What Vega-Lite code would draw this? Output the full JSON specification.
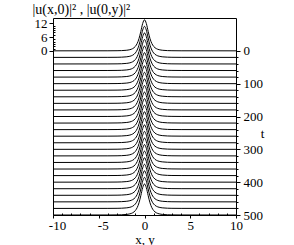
{
"$schema": "https://vega.github.io/schema/vega-lite/v6.json",
"autosize": "none",
"padding": {"left": 53, "top": 18, "right": 58, "bottom": 30},
"width": 183,
"height": 197,
"config": {
  "font": "Liberation Serif",
  "view": {"stroke": "black", "strokeWidth": 1},
  "line": {"color": "black", "strokeWidth": 1, "interpolate": "monotone"},
  "axis": {"labelFont": "Liberation Serif", "labelFontSize": 13, "labelColor": "black", "titleFont": "Liberation Serif", "titleFontSize": 13, "titleFontWeight": "normal", "titleColor": "black", "tickColor": "black", "tickWidth": 1, "domain": false, "grid": false}
},
"resolve": {"scale": {"x": "independent", "y": "independent"}, "axis": {"x": "independent", "y": "independent"}},
"data": {"values": [
{"t":0,"x":-10,"a":0},{"t":0,"x":-4,"a":0.02},{"t":0,"x":-3,"a":0.05},{"t":0,"x":-2.5,"a":0.1},{"t":0,"x":-2,"a":0.24},{"t":0,"x":-1.6,"a":0.5},{"t":0,"x":-1.3,"a":0.95},{"t":0,"x":-1,"a":1.93},{"t":0,"x":-0.8,"a":3.21},{"t":0,"x":-0.6,"a":5.33},{"t":0,"x":-0.4,"a":8.46},{"t":0,"x":-0.2,"a":11.89},{"t":0,"x":0,"a":13.5},{"t":0,"x":0.2,"a":11.89},{"t":0,"x":0.4,"a":8.46},{"t":0,"x":0.6,"a":5.33},{"t":0,"x":0.8,"a":3.21},{"t":0,"x":1,"a":1.93},{"t":0,"x":1.3,"a":0.95},{"t":0,"x":1.6,"a":0.5},{"t":0,"x":2,"a":0.24},{"t":0,"x":2.5,"a":0.1},{"t":0,"x":3,"a":0.05},{"t":0,"x":4,"a":0.02},{"t":0,"x":10,"a":0},
{"t":20,"x":-10,"a":0},{"t":20,"x":-4,"a":0.02},{"t":20,"x":-3,"a":0.05},{"t":20,"x":-2.5,"a":0.1},{"t":20,"x":-2,"a":0.24},{"t":20,"x":-1.6,"a":0.5},{"t":20,"x":-1.3,"a":0.95},{"t":20,"x":-1,"a":1.93},{"t":20,"x":-0.8,"a":3.21},{"t":20,"x":-0.6,"a":5.33},{"t":20,"x":-0.4,"a":8.46},{"t":20,"x":-0.2,"a":11.89},{"t":20,"x":0,"a":13.5},{"t":20,"x":0.2,"a":11.89},{"t":20,"x":0.4,"a":8.46},{"t":20,"x":0.6,"a":5.33},{"t":20,"x":0.8,"a":3.21},{"t":20,"x":1,"a":1.93},{"t":20,"x":1.3,"a":0.95},{"t":20,"x":1.6,"a":0.5},{"t":20,"x":2,"a":0.24},{"t":20,"x":2.5,"a":0.1},{"t":20,"x":3,"a":0.05},{"t":20,"x":4,"a":0.02},{"t":20,"x":10,"a":0},
{"t":40,"x":-10,"a":0},{"t":40,"x":-4,"a":0.02},{"t":40,"x":-3,"a":0.05},{"t":40,"x":-2.5,"a":0.1},{"t":40,"x":-2,"a":0.24},{"t":40,"x":-1.6,"a":0.5},{"t":40,"x":-1.3,"a":0.95},{"t":40,"x":-1,"a":1.93},{"t":40,"x":-0.8,"a":3.21},{"t":40,"x":-0.6,"a":5.33},{"t":40,"x":-0.4,"a":8.46},{"t":40,"x":-0.2,"a":11.89},{"t":40,"x":0,"a":13.5},{"t":40,"x":0.2,"a":11.89},{"t":40,"x":0.4,"a":8.46},{"t":40,"x":0.6,"a":5.33},{"t":40,"x":0.8,"a":3.21},{"t":40,"x":1,"a":1.93},{"t":40,"x":1.3,"a":0.95},{"t":40,"x":1.6,"a":0.5},{"t":40,"x":2,"a":0.24},{"t":40,"x":2.5,"a":0.1},{"t":40,"x":3,"a":0.05},{"t":40,"x":4,"a":0.02},{"t":40,"x":10,"a":0},
{"t":60,"x":-10,"a":0},{"t":60,"x":-4,"a":0.02},{"t":60,"x":-3,"a":0.05},{"t":60,"x":-2.5,"a":0.1},{"t":60,"x":-2,"a":0.24},{"t":60,"x":-1.6,"a":0.5},{"t":60,"x":-1.3,"a":0.95},{"t":60,"x":-1,"a":1.93},{"t":60,"x":-0.8,"a":3.21},{"t":60,"x":-0.6,"a":5.33},{"t":60,"x":-0.4,"a":8.46},{"t":60,"x":-0.2,"a":11.89},{"t":60,"x":0,"a":13.5},{"t":60,"x":0.2,"a":11.89},{"t":60,"x":0.4,"a":8.46},{"t":60,"x":0.6,"a":5.33},{"t":60,"x":0.8,"a":3.21},{"t":60,"x":1,"a":1.93},{"t":60,"x":1.3,"a":0.95},{"t":60,"x":1.6,"a":0.5},{"t":60,"x":2,"a":0.24},{"t":60,"x":2.5,"a":0.1},{"t":60,"x":3,"a":0.05},{"t":60,"x":4,"a":0.02},{"t":60,"x":10,"a":0},
{"t":80,"x":-10,"a":0},{"t":80,"x":-4,"a":0.02},{"t":80,"x":-3,"a":0.05},{"t":80,"x":-2.5,"a":0.1},{"t":80,"x":-2,"a":0.24},{"t":80,"x":-1.6,"a":0.5},{"t":80,"x":-1.3,"a":0.95},{"t":80,"x":-1,"a":1.93},{"t":80,"x":-0.8,"a":3.21},{"t":80,"x":-0.6,"a":5.33},{"t":80,"x":-0.4,"a":8.46},{"t":80,"x":-0.2,"a":11.89},{"t":80,"x":0,"a":13.5},{"t":80,"x":0.2,"a":11.89},{"t":80,"x":0.4,"a":8.46},{"t":80,"x":0.6,"a":5.33},{"t":80,"x":0.8,"a":3.21},{"t":80,"x":1,"a":1.93},{"t":80,"x":1.3,"a":0.95},{"t":80,"x":1.6,"a":0.5},{"t":80,"x":2,"a":0.24},{"t":80,"x":2.5,"a":0.1},{"t":80,"x":3,"a":0.05},{"t":80,"x":4,"a":0.02},{"t":80,"x":10,"a":0},
{"t":100,"x":-10,"a":0},{"t":100,"x":-4,"a":0.02},{"t":100,"x":-3,"a":0.05},{"t":100,"x":-2.5,"a":0.1},{"t":100,"x":-2,"a":0.24},{"t":100,"x":-1.6,"a":0.5},{"t":100,"x":-1.3,"a":0.95},{"t":100,"x":-1,"a":1.93},{"t":100,"x":-0.8,"a":3.21},{"t":100,"x":-0.6,"a":5.33},{"t":100,"x":-0.4,"a":8.46},{"t":100,"x":-0.2,"a":11.89},{"t":100,"x":0,"a":13.5},{"t":100,"x":0.2,"a":11.89},{"t":100,"x":0.4,"a":8.46},{"t":100,"x":0.6,"a":5.33},{"t":100,"x":0.8,"a":3.21},{"t":100,"x":1,"a":1.93},{"t":100,"x":1.3,"a":0.95},{"t":100,"x":1.6,"a":0.5},{"t":100,"x":2,"a":0.24},{"t":100,"x":2.5,"a":0.1},{"t":100,"x":3,"a":0.05},{"t":100,"x":4,"a":0.02},{"t":100,"x":10,"a":0},
{"t":120,"x":-10,"a":0},{"t":120,"x":-4,"a":0.02},{"t":120,"x":-3,"a":0.05},{"t":120,"x":-2.5,"a":0.1},{"t":120,"x":-2,"a":0.24},{"t":120,"x":-1.6,"a":0.5},{"t":120,"x":-1.3,"a":0.95},{"t":120,"x":-1,"a":1.93},{"t":120,"x":-0.8,"a":3.21},{"t":120,"x":-0.6,"a":5.33},{"t":120,"x":-0.4,"a":8.46},{"t":120,"x":-0.2,"a":11.89},{"t":120,"x":0,"a":13.5},{"t":120,"x":0.2,"a":11.89},{"t":120,"x":0.4,"a":8.46},{"t":120,"x":0.6,"a":5.33},{"t":120,"x":0.8,"a":3.21},{"t":120,"x":1,"a":1.93},{"t":120,"x":1.3,"a":0.95},{"t":120,"x":1.6,"a":0.5},{"t":120,"x":2,"a":0.24},{"t":120,"x":2.5,"a":0.1},{"t":120,"x":3,"a":0.05},{"t":120,"x":4,"a":0.02},{"t":120,"x":10,"a":0},
{"t":140,"x":-10,"a":0},{"t":140,"x":-4,"a":0.02},{"t":140,"x":-3,"a":0.05},{"t":140,"x":-2.5,"a":0.1},{"t":140,"x":-2,"a":0.24},{"t":140,"x":-1.6,"a":0.5},{"t":140,"x":-1.3,"a":0.95},{"t":140,"x":-1,"a":1.93},{"t":140,"x":-0.8,"a":3.21},{"t":140,"x":-0.6,"a":5.33},{"t":140,"x":-0.4,"a":8.46},{"t":140,"x":-0.2,"a":11.89},{"t":140,"x":0,"a":13.5},{"t":140,"x":0.2,"a":11.89},{"t":140,"x":0.4,"a":8.46},{"t":140,"x":0.6,"a":5.33},{"t":140,"x":0.8,"a":3.21},{"t":140,"x":1,"a":1.93},{"t":140,"x":1.3,"a":0.95},{"t":140,"x":1.6,"a":0.5},{"t":140,"x":2,"a":0.24},{"t":140,"x":2.5,"a":0.1},{"t":140,"x":3,"a":0.05},{"t":140,"x":4,"a":0.02},{"t":140,"x":10,"a":0},
{"t":160,"x":-10,"a":0},{"t":160,"x":-4,"a":0.02},{"t":160,"x":-3,"a":0.05},{"t":160,"x":-2.5,"a":0.1},{"t":160,"x":-2,"a":0.24},{"t":160,"x":-1.6,"a":0.5},{"t":160,"x":-1.3,"a":0.95},{"t":160,"x":-1,"a":1.93},{"t":160,"x":-0.8,"a":3.21},{"t":160,"x":-0.6,"a":5.33},{"t":160,"x":-0.4,"a":8.46},{"t":160,"x":-0.2,"a":11.89},{"t":160,"x":0,"a":13.5},{"t":160,"x":0.2,"a":11.89},{"t":160,"x":0.4,"a":8.46},{"t":160,"x":0.6,"a":5.33},{"t":160,"x":0.8,"a":3.21},{"t":160,"x":1,"a":1.93},{"t":160,"x":1.3,"a":0.95},{"t":160,"x":1.6,"a":0.5},{"t":160,"x":2,"a":0.24},{"t":160,"x":2.5,"a":0.1},{"t":160,"x":3,"a":0.05},{"t":160,"x":4,"a":0.02},{"t":160,"x":10,"a":0},
{"t":180,"x":-10,"a":0},{"t":180,"x":-4,"a":0.02},{"t":180,"x":-3,"a":0.05},{"t":180,"x":-2.5,"a":0.1},{"t":180,"x":-2,"a":0.24},{"t":180,"x":-1.6,"a":0.5},{"t":180,"x":-1.3,"a":0.95},{"t":180,"x":-1,"a":1.93},{"t":180,"x":-0.8,"a":3.21},{"t":180,"x":-0.6,"a":5.33},{"t":180,"x":-0.4,"a":8.46},{"t":180,"x":-0.2,"a":11.89},{"t":180,"x":0,"a":13.5},{"t":180,"x":0.2,"a":11.89},{"t":180,"x":0.4,"a":8.46},{"t":180,"x":0.6,"a":5.33},{"t":180,"x":0.8,"a":3.21},{"t":180,"x":1,"a":1.93},{"t":180,"x":1.3,"a":0.95},{"t":180,"x":1.6,"a":0.5},{"t":180,"x":2,"a":0.24},{"t":180,"x":2.5,"a":0.1},{"t":180,"x":3,"a":0.05},{"t":180,"x":4,"a":0.02},{"t":180,"x":10,"a":0},
{"t":200,"x":-10,"a":0},{"t":200,"x":-4,"a":0.02},{"t":200,"x":-3,"a":0.05},{"t":200,"x":-2.5,"a":0.1},{"t":200,"x":-2,"a":0.24},{"t":200,"x":-1.6,"a":0.5},{"t":200,"x":-1.3,"a":0.95},{"t":200,"x":-1,"a":1.93},{"t":200,"x":-0.8,"a":3.21},{"t":200,"x":-0.6,"a":5.33},{"t":200,"x":-0.4,"a":8.46},{"t":200,"x":-0.2,"a":11.89},{"t":200,"x":0,"a":13.5},{"t":200,"x":0.2,"a":11.89},{"t":200,"x":0.4,"a":8.46},{"t":200,"x":0.6,"a":5.33},{"t":200,"x":0.8,"a":3.21},{"t":200,"x":1,"a":1.93},{"t":200,"x":1.3,"a":0.95},{"t":200,"x":1.6,"a":0.5},{"t":200,"x":2,"a":0.24},{"t":200,"x":2.5,"a":0.1},{"t":200,"x":3,"a":0.05},{"t":200,"x":4,"a":0.02},{"t":200,"x":10,"a":0},
{"t":220,"x":-10,"a":0},{"t":220,"x":-4,"a":0.02},{"t":220,"x":-3,"a":0.05},{"t":220,"x":-2.5,"a":0.1},{"t":220,"x":-2,"a":0.24},{"t":220,"x":-1.6,"a":0.5},{"t":220,"x":-1.3,"a":0.95},{"t":220,"x":-1,"a":1.93},{"t":220,"x":-0.8,"a":3.21},{"t":220,"x":-0.6,"a":5.33},{"t":220,"x":-0.4,"a":8.46},{"t":220,"x":-0.2,"a":11.89},{"t":220,"x":0,"a":13.5},{"t":220,"x":0.2,"a":11.89},{"t":220,"x":0.4,"a":8.46},{"t":220,"x":0.6,"a":5.33},{"t":220,"x":0.8,"a":3.21},{"t":220,"x":1,"a":1.93},{"t":220,"x":1.3,"a":0.95},{"t":220,"x":1.6,"a":0.5},{"t":220,"x":2,"a":0.24},{"t":220,"x":2.5,"a":0.1},{"t":220,"x":3,"a":0.05},{"t":220,"x":4,"a":0.02},{"t":220,"x":10,"a":0},
{"t":240,"x":-10,"a":0},{"t":240,"x":-4,"a":0.02},{"t":240,"x":-3,"a":0.05},{"t":240,"x":-2.5,"a":0.1},{"t":240,"x":-2,"a":0.24},{"t":240,"x":-1.6,"a":0.5},{"t":240,"x":-1.3,"a":0.95},{"t":240,"x":-1,"a":1.93},{"t":240,"x":-0.8,"a":3.21},{"t":240,"x":-0.6,"a":5.33},{"t":240,"x":-0.4,"a":8.46},{"t":240,"x":-0.2,"a":11.89},{"t":240,"x":0,"a":13.5},{"t":240,"x":0.2,"a":11.89},{"t":240,"x":0.4,"a":8.46},{"t":240,"x":0.6,"a":5.33},{"t":240,"x":0.8,"a":3.21},{"t":240,"x":1,"a":1.93},{"t":240,"x":1.3,"a":0.95},{"t":240,"x":1.6,"a":0.5},{"t":240,"x":2,"a":0.24},{"t":240,"x":2.5,"a":0.1},{"t":240,"x":3,"a":0.05},{"t":240,"x":4,"a":0.02},{"t":240,"x":10,"a":0},
{"t":260,"x":-10,"a":0},{"t":260,"x":-4,"a":0.02},{"t":260,"x":-3,"a":0.05},{"t":260,"x":-2.5,"a":0.1},{"t":260,"x":-2,"a":0.24},{"t":260,"x":-1.6,"a":0.5},{"t":260,"x":-1.3,"a":0.95},{"t":260,"x":-1,"a":1.93},{"t":260,"x":-0.8,"a":3.21},{"t":260,"x":-0.6,"a":5.33},{"t":260,"x":-0.4,"a":8.46},{"t":260,"x":-0.2,"a":11.89},{"t":260,"x":0,"a":13.5},{"t":260,"x":0.2,"a":11.89},{"t":260,"x":0.4,"a":8.46},{"t":260,"x":0.6,"a":5.33},{"t":260,"x":0.8,"a":3.21},{"t":260,"x":1,"a":1.93},{"t":260,"x":1.3,"a":0.95},{"t":260,"x":1.6,"a":0.5},{"t":260,"x":2,"a":0.24},{"t":260,"x":2.5,"a":0.1},{"t":260,"x":3,"a":0.05},{"t":260,"x":4,"a":0.02},{"t":260,"x":10,"a":0},
{"t":280,"x":-10,"a":0},{"t":280,"x":-4,"a":0.02},{"t":280,"x":-3,"a":0.05},{"t":280,"x":-2.5,"a":0.1},{"t":280,"x":-2,"a":0.24},{"t":280,"x":-1.6,"a":0.5},{"t":280,"x":-1.3,"a":0.95},{"t":280,"x":-1,"a":1.93},{"t":280,"x":-0.8,"a":3.21},{"t":280,"x":-0.6,"a":5.33},{"t":280,"x":-0.4,"a":8.46},{"t":280,"x":-0.2,"a":11.89},{"t":280,"x":0,"a":13.5},{"t":280,"x":0.2,"a":11.89},{"t":280,"x":0.4,"a":8.46},{"t":280,"x":0.6,"a":5.33},{"t":280,"x":0.8,"a":3.21},{"t":280,"x":1,"a":1.93},{"t":280,"x":1.3,"a":0.95},{"t":280,"x":1.6,"a":0.5},{"t":280,"x":2,"a":0.24},{"t":280,"x":2.5,"a":0.1},{"t":280,"x":3,"a":0.05},{"t":280,"x":4,"a":0.02},{"t":280,"x":10,"a":0},
{"t":300,"x":-10,"a":0},{"t":300,"x":-4,"a":0.02},{"t":300,"x":-3,"a":0.05},{"t":300,"x":-2.5,"a":0.1},{"t":300,"x":-2,"a":0.24},{"t":300,"x":-1.6,"a":0.5},{"t":300,"x":-1.3,"a":0.95},{"t":300,"x":-1,"a":1.93},{"t":300,"x":-0.8,"a":3.21},{"t":300,"x":-0.6,"a":5.33},{"t":300,"x":-0.4,"a":8.46},{"t":300,"x":-0.2,"a":11.89},{"t":300,"x":0,"a":13.5},{"t":300,"x":0.2,"a":11.89},{"t":300,"x":0.4,"a":8.46},{"t":300,"x":0.6,"a":5.33},{"t":300,"x":0.8,"a":3.21},{"t":300,"x":1,"a":1.93},{"t":300,"x":1.3,"a":0.95},{"t":300,"x":1.6,"a":0.5},{"t":300,"x":2,"a":0.24},{"t":300,"x":2.5,"a":0.1},{"t":300,"x":3,"a":0.05},{"t":300,"x":4,"a":0.02},{"t":300,"x":10,"a":0},
{"t":320,"x":-10,"a":0},{"t":320,"x":-4,"a":0.02},{"t":320,"x":-3,"a":0.05},{"t":320,"x":-2.5,"a":0.1},{"t":320,"x":-2,"a":0.24},{"t":320,"x":-1.6,"a":0.5},{"t":320,"x":-1.3,"a":0.95},{"t":320,"x":-1,"a":1.93},{"t":320,"x":-0.8,"a":3.21},{"t":320,"x":-0.6,"a":5.33},{"t":320,"x":-0.4,"a":8.46},{"t":320,"x":-0.2,"a":11.89},{"t":320,"x":0,"a":13.5},{"t":320,"x":0.2,"a":11.89},{"t":320,"x":0.4,"a":8.46},{"t":320,"x":0.6,"a":5.33},{"t":320,"x":0.8,"a":3.21},{"t":320,"x":1,"a":1.93},{"t":320,"x":1.3,"a":0.95},{"t":320,"x":1.6,"a":0.5},{"t":320,"x":2,"a":0.24},{"t":320,"x":2.5,"a":0.1},{"t":320,"x":3,"a":0.05},{"t":320,"x":4,"a":0.02},{"t":320,"x":10,"a":0},
{"t":340,"x":-10,"a":0},{"t":340,"x":-4,"a":0.02},{"t":340,"x":-3,"a":0.05},{"t":340,"x":-2.5,"a":0.1},{"t":340,"x":-2,"a":0.24},{"t":340,"x":-1.6,"a":0.5},{"t":340,"x":-1.3,"a":0.95},{"t":340,"x":-1,"a":1.93},{"t":340,"x":-0.8,"a":3.21},{"t":340,"x":-0.6,"a":5.33},{"t":340,"x":-0.4,"a":8.46},{"t":340,"x":-0.2,"a":11.89},{"t":340,"x":0,"a":13.5},{"t":340,"x":0.2,"a":11.89},{"t":340,"x":0.4,"a":8.46},{"t":340,"x":0.6,"a":5.33},{"t":340,"x":0.8,"a":3.21},{"t":340,"x":1,"a":1.93},{"t":340,"x":1.3,"a":0.95},{"t":340,"x":1.6,"a":0.5},{"t":340,"x":2,"a":0.24},{"t":340,"x":2.5,"a":0.1},{"t":340,"x":3,"a":0.05},{"t":340,"x":4,"a":0.02},{"t":340,"x":10,"a":0},
{"t":360,"x":-10,"a":0},{"t":360,"x":-4,"a":0.02},{"t":360,"x":-3,"a":0.05},{"t":360,"x":-2.5,"a":0.1},{"t":360,"x":-2,"a":0.24},{"t":360,"x":-1.6,"a":0.5},{"t":360,"x":-1.3,"a":0.95},{"t":360,"x":-1,"a":1.93},{"t":360,"x":-0.8,"a":3.21},{"t":360,"x":-0.6,"a":5.33},{"t":360,"x":-0.4,"a":8.46},{"t":360,"x":-0.2,"a":11.89},{"t":360,"x":0,"a":13.5},{"t":360,"x":0.2,"a":11.89},{"t":360,"x":0.4,"a":8.46},{"t":360,"x":0.6,"a":5.33},{"t":360,"x":0.8,"a":3.21},{"t":360,"x":1,"a":1.93},{"t":360,"x":1.3,"a":0.95},{"t":360,"x":1.6,"a":0.5},{"t":360,"x":2,"a":0.24},{"t":360,"x":2.5,"a":0.1},{"t":360,"x":3,"a":0.05},{"t":360,"x":4,"a":0.02},{"t":360,"x":10,"a":0},
{"t":380,"x":-10,"a":0},{"t":380,"x":-4,"a":0.02},{"t":380,"x":-3,"a":0.05},{"t":380,"x":-2.5,"a":0.1},{"t":380,"x":-2,"a":0.24},{"t":380,"x":-1.6,"a":0.5},{"t":380,"x":-1.3,"a":0.95},{"t":380,"x":-1,"a":1.93},{"t":380,"x":-0.8,"a":3.21},{"t":380,"x":-0.6,"a":5.33},{"t":380,"x":-0.4,"a":8.46},{"t":380,"x":-0.2,"a":11.89},{"t":380,"x":0,"a":13.5},{"t":380,"x":0.2,"a":11.89},{"t":380,"x":0.4,"a":8.46},{"t":380,"x":0.6,"a":5.33},{"t":380,"x":0.8,"a":3.21},{"t":380,"x":1,"a":1.93},{"t":380,"x":1.3,"a":0.95},{"t":380,"x":1.6,"a":0.5},{"t":380,"x":2,"a":0.24},{"t":380,"x":2.5,"a":0.1},{"t":380,"x":3,"a":0.05},{"t":380,"x":4,"a":0.02},{"t":380,"x":10,"a":0},
{"t":400,"x":-10,"a":0},{"t":400,"x":-4,"a":0.02},{"t":400,"x":-3,"a":0.05},{"t":400,"x":-2.5,"a":0.1},{"t":400,"x":-2,"a":0.24},{"t":400,"x":-1.6,"a":0.5},{"t":400,"x":-1.3,"a":0.95},{"t":400,"x":-1,"a":1.93},{"t":400,"x":-0.8,"a":3.21},{"t":400,"x":-0.6,"a":5.33},{"t":400,"x":-0.4,"a":8.46},{"t":400,"x":-0.2,"a":11.89},{"t":400,"x":0,"a":13.5},{"t":400,"x":0.2,"a":11.89},{"t":400,"x":0.4,"a":8.46},{"t":400,"x":0.6,"a":5.33},{"t":400,"x":0.8,"a":3.21},{"t":400,"x":1,"a":1.93},{"t":400,"x":1.3,"a":0.95},{"t":400,"x":1.6,"a":0.5},{"t":400,"x":2,"a":0.24},{"t":400,"x":2.5,"a":0.1},{"t":400,"x":3,"a":0.05},{"t":400,"x":4,"a":0.02},{"t":400,"x":10,"a":0},
{"t":420,"x":-10,"a":0},{"t":420,"x":-4,"a":0.02},{"t":420,"x":-3,"a":0.05},{"t":420,"x":-2.5,"a":0.1},{"t":420,"x":-2,"a":0.24},{"t":420,"x":-1.6,"a":0.5},{"t":420,"x":-1.3,"a":0.95},{"t":420,"x":-1,"a":1.93},{"t":420,"x":-0.8,"a":3.21},{"t":420,"x":-0.6,"a":5.33},{"t":420,"x":-0.4,"a":8.46},{"t":420,"x":-0.2,"a":11.89},{"t":420,"x":0,"a":13.5},{"t":420,"x":0.2,"a":11.89},{"t":420,"x":0.4,"a":8.46},{"t":420,"x":0.6,"a":5.33},{"t":420,"x":0.8,"a":3.21},{"t":420,"x":1,"a":1.93},{"t":420,"x":1.3,"a":0.95},{"t":420,"x":1.6,"a":0.5},{"t":420,"x":2,"a":0.24},{"t":420,"x":2.5,"a":0.1},{"t":420,"x":3,"a":0.05},{"t":420,"x":4,"a":0.02},{"t":420,"x":10,"a":0},
{"t":440,"x":-10,"a":0},{"t":440,"x":-4,"a":0.02},{"t":440,"x":-3,"a":0.05},{"t":440,"x":-2.5,"a":0.1},{"t":440,"x":-2,"a":0.24},{"t":440,"x":-1.6,"a":0.5},{"t":440,"x":-1.3,"a":0.95},{"t":440,"x":-1,"a":1.93},{"t":440,"x":-0.8,"a":3.21},{"t":440,"x":-0.6,"a":5.33},{"t":440,"x":-0.4,"a":8.46},{"t":440,"x":-0.2,"a":11.89},{"t":440,"x":0,"a":13.5},{"t":440,"x":0.2,"a":11.89},{"t":440,"x":0.4,"a":8.46},{"t":440,"x":0.6,"a":5.33},{"t":440,"x":0.8,"a":3.21},{"t":440,"x":1,"a":1.93},{"t":440,"x":1.3,"a":0.95},{"t":440,"x":1.6,"a":0.5},{"t":440,"x":2,"a":0.24},{"t":440,"x":2.5,"a":0.1},{"t":440,"x":3,"a":0.05},{"t":440,"x":4,"a":0.02},{"t":440,"x":10,"a":0},
{"t":460,"x":-10,"a":0},{"t":460,"x":-4,"a":0.02},{"t":460,"x":-3,"a":0.05},{"t":460,"x":-2.5,"a":0.1},{"t":460,"x":-2,"a":0.24},{"t":460,"x":-1.6,"a":0.5},{"t":460,"x":-1.3,"a":0.95},{"t":460,"x":-1,"a":1.93},{"t":460,"x":-0.8,"a":3.21},{"t":460,"x":-0.6,"a":5.33},{"t":460,"x":-0.4,"a":8.46},{"t":460,"x":-0.2,"a":11.89},{"t":460,"x":0,"a":13.5},{"t":460,"x":0.2,"a":11.89},{"t":460,"x":0.4,"a":8.46},{"t":460,"x":0.6,"a":5.33},{"t":460,"x":0.8,"a":3.21},{"t":460,"x":1,"a":1.93},{"t":460,"x":1.3,"a":0.95},{"t":460,"x":1.6,"a":0.5},{"t":460,"x":2,"a":0.24},{"t":460,"x":2.5,"a":0.1},{"t":460,"x":3,"a":0.05},{"t":460,"x":4,"a":0.02},{"t":460,"x":10,"a":0},
{"t":480,"x":-10,"a":0},{"t":480,"x":-4,"a":0.02},{"t":480,"x":-3,"a":0.05},{"t":480,"x":-2.5,"a":0.1},{"t":480,"x":-2,"a":0.24},{"t":480,"x":-1.6,"a":0.5},{"t":480,"x":-1.3,"a":0.95},{"t":480,"x":-1,"a":1.93},{"t":480,"x":-0.8,"a":3.21},{"t":480,"x":-0.6,"a":5.33},{"t":480,"x":-0.4,"a":8.46},{"t":480,"x":-0.2,"a":11.89},{"t":480,"x":0,"a":13.5},{"t":480,"x":0.2,"a":11.89},{"t":480,"x":0.4,"a":8.46},{"t":480,"x":0.6,"a":5.33},{"t":480,"x":0.8,"a":3.21},{"t":480,"x":1,"a":1.93},{"t":480,"x":1.3,"a":0.95},{"t":480,"x":1.6,"a":0.5},{"t":480,"x":2,"a":0.24},{"t":480,"x":2.5,"a":0.1},{"t":480,"x":3,"a":0.05},{"t":480,"x":4,"a":0.02},{"t":480,"x":10,"a":0},
{"t":500,"x":-10,"a":0},{"t":500,"x":-4,"a":0.02},{"t":500,"x":-3,"a":0.05},{"t":500,"x":-2.5,"a":0.1},{"t":500,"x":-2,"a":0.24},{"t":500,"x":-1.6,"a":0.5},{"t":500,"x":-1.3,"a":0.95},{"t":500,"x":-1,"a":1.93},{"t":500,"x":-0.8,"a":3.21},{"t":500,"x":-0.6,"a":5.33},{"t":500,"x":-0.4,"a":8.46},{"t":500,"x":-0.2,"a":11.89},{"t":500,"x":0,"a":13.5},{"t":500,"x":0.2,"a":11.89},{"t":500,"x":0.4,"a":8.46},{"t":500,"x":0.6,"a":5.33},{"t":500,"x":0.8,"a":3.21},{"t":500,"x":1,"a":1.93},{"t":500,"x":1.3,"a":0.95},{"t":500,"x":1.6,"a":0.5},{"t":500,"x":2,"a":0.24},{"t":500,"x":2.5,"a":0.1},{"t":500,"x":3,"a":0.05},{"t":500,"x":4,"a":0.02},{"t":500,"x":10,"a":0}
]},
"layer": [
{"transform":[{"filter":"datum.t == 0"}],"mark":"line","encoding":{"x":{"field":"x","type":"quantitative","scale":{"domain":[-10,10],"nice":false,"zero":false},"axis":null},"y":{"field":"a","type":"quantitative","scale":{"domain":[-71.4286,14.2857],"nice":false,"zero":false},"axis":null}}},
{"transform":[{"filter":"datum.t == 20"}],"mark":"line","encoding":{"x":{"field":"x","type":"quantitative","scale":{"domain":[-10,10],"nice":false,"zero":false},"axis":null},"y":{"field":"a","type":"quantitative","scale":{"domain":[-68.5714,17.1429],"nice":false,"zero":false},"axis":null}}},
{"transform":[{"filter":"datum.t == 40"}],"mark":"line","encoding":{"x":{"field":"x","type":"quantitative","scale":{"domain":[-10,10],"nice":false,"zero":false},"axis":null},"y":{"field":"a","type":"quantitative","scale":{"domain":[-65.7143,20],"nice":false,"zero":false},"axis":null}}},
{"transform":[{"filter":"datum.t == 60"}],"mark":"line","encoding":{"x":{"field":"x","type":"quantitative","scale":{"domain":[-10,10],"nice":false,"zero":false},"axis":null},"y":{"field":"a","type":"quantitative","scale":{"domain":[-62.8571,22.8571],"nice":false,"zero":false},"axis":null}}},
{"transform":[{"filter":"datum.t == 80"}],"mark":"line","encoding":{"x":{"field":"x","type":"quantitative","scale":{"domain":[-10,10],"nice":false,"zero":false},"axis":null},"y":{"field":"a","type":"quantitative","scale":{"domain":[-60,25.7143],"nice":false,"zero":false},"axis":null}}},
{"transform":[{"filter":"datum.t == 100"}],"mark":"line","encoding":{"x":{"field":"x","type":"quantitative","scale":{"domain":[-10,10],"nice":false,"zero":false},"axis":null},"y":{"field":"a","type":"quantitative","scale":{"domain":[-57.1429,28.5714],"nice":false,"zero":false},"axis":null}}},
{"transform":[{"filter":"datum.t == 120"}],"mark":"line","encoding":{"x":{"field":"x","type":"quantitative","scale":{"domain":[-10,10],"nice":false,"zero":false},"axis":null},"y":{"field":"a","type":"quantitative","scale":{"domain":[-54.2857,31.4286],"nice":false,"zero":false},"axis":null}}},
{"transform":[{"filter":"datum.t == 140"}],"mark":"line","encoding":{"x":{"field":"x","type":"quantitative","scale":{"domain":[-10,10],"nice":false,"zero":false},"axis":null},"y":{"field":"a","type":"quantitative","scale":{"domain":[-51.4286,34.2857],"nice":false,"zero":false},"axis":null}}},
{"transform":[{"filter":"datum.t == 160"}],"mark":"line","encoding":{"x":{"field":"x","type":"quantitative","scale":{"domain":[-10,10],"nice":false,"zero":false},"axis":null},"y":{"field":"a","type":"quantitative","scale":{"domain":[-48.5714,37.1429],"nice":false,"zero":false},"axis":null}}},
{"transform":[{"filter":"datum.t == 180"}],"mark":"line","encoding":{"x":{"field":"x","type":"quantitative","scale":{"domain":[-10,10],"nice":false,"zero":false},"axis":null},"y":{"field":"a","type":"quantitative","scale":{"domain":[-45.7143,40],"nice":false,"zero":false},"axis":null}}},
{"transform":[{"filter":"datum.t == 200"}],"mark":"line","encoding":{"x":{"field":"x","type":"quantitative","scale":{"domain":[-10,10],"nice":false,"zero":false},"axis":null},"y":{"field":"a","type":"quantitative","scale":{"domain":[-42.8571,42.8571],"nice":false,"zero":false},"axis":null}}},
{"transform":[{"filter":"datum.t == 220"}],"mark":"line","encoding":{"x":{"field":"x","type":"quantitative","scale":{"domain":[-10,10],"nice":false,"zero":false},"axis":null},"y":{"field":"a","type":"quantitative","scale":{"domain":[-40,45.7143],"nice":false,"zero":false},"axis":null}}},
{"transform":[{"filter":"datum.t == 240"}],"mark":"line","encoding":{"x":{"field":"x","type":"quantitative","scale":{"domain":[-10,10],"nice":false,"zero":false},"axis":null},"y":{"field":"a","type":"quantitative","scale":{"domain":[-37.1429,48.5714],"nice":false,"zero":false},"axis":null}}},
{"transform":[{"filter":"datum.t == 260"}],"mark":"line","encoding":{"x":{"field":"x","type":"quantitative","scale":{"domain":[-10,10],"nice":false,"zero":false},"axis":null},"y":{"field":"a","type":"quantitative","scale":{"domain":[-34.2857,51.4286],"nice":false,"zero":false},"axis":null}}},
{"transform":[{"filter":"datum.t == 280"}],"mark":"line","encoding":{"x":{"field":"x","type":"quantitative","scale":{"domain":[-10,10],"nice":false,"zero":false},"axis":null},"y":{"field":"a","type":"quantitative","scale":{"domain":[-31.4286,54.2857],"nice":false,"zero":false},"axis":null}}},
{"transform":[{"filter":"datum.t == 300"}],"mark":"line","encoding":{"x":{"field":"x","type":"quantitative","scale":{"domain":[-10,10],"nice":false,"zero":false},"axis":null},"y":{"field":"a","type":"quantitative","scale":{"domain":[-28.5714,57.1429],"nice":false,"zero":false},"axis":null}}},
{"transform":[{"filter":"datum.t == 320"}],"mark":"line","encoding":{"x":{"field":"x","type":"quantitative","scale":{"domain":[-10,10],"nice":false,"zero":false},"axis":null},"y":{"field":"a","type":"quantitative","scale":{"domain":[-25.7143,60],"nice":false,"zero":false},"axis":null}}},
{"transform":[{"filter":"datum.t == 340"}],"mark":"line","encoding":{"x":{"field":"x","type":"quantitative","scale":{"domain":[-10,10],"nice":false,"zero":false},"axis":null},"y":{"field":"a","type":"quantitative","scale":{"domain":[-22.8571,62.8571],"nice":false,"zero":false},"axis":null}}},
{"transform":[{"filter":"datum.t == 360"}],"mark":"line","encoding":{"x":{"field":"x","type":"quantitative","scale":{"domain":[-10,10],"nice":false,"zero":false},"axis":null},"y":{"field":"a","type":"quantitative","scale":{"domain":[-20,65.7143],"nice":false,"zero":false},"axis":null}}},
{"transform":[{"filter":"datum.t == 380"}],"mark":"line","encoding":{"x":{"field":"x","type":"quantitative","scale":{"domain":[-10,10],"nice":false,"zero":false},"axis":null},"y":{"field":"a","type":"quantitative","scale":{"domain":[-17.1429,68.5714],"nice":false,"zero":false},"axis":null}}},
{"transform":[{"filter":"datum.t == 400"}],"mark":"line","encoding":{"x":{"field":"x","type":"quantitative","scale":{"domain":[-10,10],"nice":false,"zero":false},"axis":null},"y":{"field":"a","type":"quantitative","scale":{"domain":[-14.2857,71.4286],"nice":false,"zero":false},"axis":null}}},
{"transform":[{"filter":"datum.t == 420"}],"mark":"line","encoding":{"x":{"field":"x","type":"quantitative","scale":{"domain":[-10,10],"nice":false,"zero":false},"axis":null},"y":{"field":"a","type":"quantitative","scale":{"domain":[-11.4286,74.2857],"nice":false,"zero":false},"axis":null}}},
{"transform":[{"filter":"datum.t == 440"}],"mark":"line","encoding":{"x":{"field":"x","type":"quantitative","scale":{"domain":[-10,10],"nice":false,"zero":false},"axis":null},"y":{"field":"a","type":"quantitative","scale":{"domain":[-8.5714,77.1429],"nice":false,"zero":false},"axis":null}}},
{"transform":[{"filter":"datum.t == 460"}],"mark":"line","encoding":{"x":{"field":"x","type":"quantitative","scale":{"domain":[-10,10],"nice":false,"zero":false},"axis":null},"y":{"field":"a","type":"quantitative","scale":{"domain":[-5.7143,80],"nice":false,"zero":false},"axis":null}}},
{"transform":[{"filter":"datum.t == 480"}],"mark":"line","encoding":{"x":{"field":"x","type":"quantitative","scale":{"domain":[-10,10],"nice":false,"zero":false},"axis":null},"y":{"field":"a","type":"quantitative","scale":{"domain":[-2.8571,82.8571],"nice":false,"zero":false},"axis":null}}},
{"transform":[{"filter":"datum.t == 500"}],"mark":"line","encoding":{"x":{"field":"x","type":"quantitative","scale":{"domain":[-10,10],"nice":false,"zero":false},"axis":null},"y":{"field":"a","type":"quantitative","scale":{"domain":[0,85.7143],"nice":false,"zero":false},"axis":null}}},
{
"data": {"values": [{"x": 0, "t": 0, "a": 0}]},
"mark": {"type": "point", "opacity": 0},
"encoding": {
  "x": {"field": "x", "type": "quantitative", "scale": {"domain": [-10, 10], "nice": false, "zero": false},
        "axis": {"orient": "bottom", "values": [-10, -5, 0, 5, 10], "tickSize": 3, "labelPadding": 1, "labelExpr": "replace(datum.label, '−', '-')", "labelOffset": {"condition": {"test": "datum.value < 0", "value": 4}, "value": 0}, "labelFlush": false, "title": "x, y", "titleY": 28, "titleBaseline": "alphabetic"}},
  "y": {"field": "t", "type": "quantitative", "scale": {"domain": [-100, 500], "nice": false, "zero": false, "reverse": true},
        "axis": {"orient": "right", "values": [0, 100, 200, 300, 400, 500], "tickSize": 4, "labelPadding": 3, "labelFlush": false, "title": "t", "titleAngle": 0, "titleX": 26, "titleY": 115, "titleAlign": "center", "titleBaseline": "middle"}}
}
},
{
"data": {"values": [{"x": 0, "t": 0}]},
"mark": {"type": "point", "opacity": 0},
"encoding": {
  "x": {"field": "x", "type": "quantitative", "scale": {"domain": [-10, 10], "nice": false, "zero": false},
        "axis": {"orient": "bottom", "values": [-9, -8, -7, -6, -4, -3, -2, -1, 1, 2, 3, 4, 6, 7, 8, 9], "tickSize": -2, "labels": false, "title": null}},
  "y": {"field": "t", "type": "quantitative", "scale": {"domain": [-100, 500], "nice": false, "zero": false, "reverse": true},
        "axis": {"orient": "right", "values": [20, 40, 60, 80, 120, 140, 160, 180, 220, 240, 260, 280, 320, 340, 360, 380, 420, 440, 460, 480], "tickSize": 2, "labels": false, "title": null}}
}
},
{
"data": {"values": [{"a": 0}]},
"mark": {"type": "point", "opacity": 0},
"encoding": {
  "y": {"field": "a", "type": "quantitative", "scale": {"domain": [-71.4286, 14.2857], "nice": false, "zero": false},
        "axis": {"orient": "left", "values": [0, 6, 12], "tickSize": 4, "labelPadding": 2, "labelFlush": false, "title": "|u(x,0)|² , |u(0,y)|²", "titleAngle": 0, "titleX": -21, "titleY": -5, "titleAlign": "left", "titleBaseline": "alphabetic", "titleFontSize": 14}}
}
},
{
"data": {"values": [{"a": 0}]},
"mark": {"type": "point", "opacity": 0},
"encoding": {
  "y": {"field": "a", "type": "quantitative", "scale": {"domain": [-71.4286, 14.2857], "nice": false, "zero": false},
        "axis": {"orient": "left", "values": [1, 2, 3, 4, 5, 7, 8, 9, 10, 11], "tickSize": -2, "labels": false, "title": null}}
}
}
]
}
